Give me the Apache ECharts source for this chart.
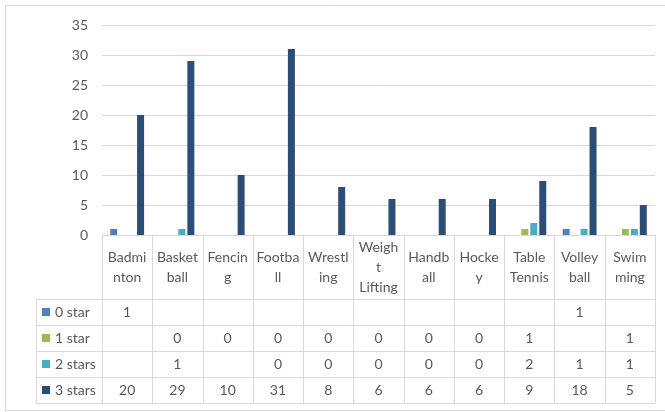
<!DOCTYPE html>
<html><head><meta charset="utf-8">
<script src="https://cdn.jsdelivr.net/npm/echarts@6/dist/echarts.min.js"></script>
<style>html,body{margin:0;padding:0;background:#fff}#c{width:665px;height:412px}</style>
</head><body><div id="c"></div>
<script>
// ---- data ----
const categories = ['Badminton','Basketball','Fencing','Football','Wrestling','Weight Lifting','Handball','Hockey','Table Tennis','Volley ball','Swimming'];
const tickLabels = ['Badmi\nnton','Basket\nball','Fencin\ng','Footba\nll','Wrestl\ning','Weigh\nt\nLifting','Handb\nall','Hocke\ny','Table\nTennis','Volley\nball','Swim\nming'];
const seriesNames = ['0 star','1 star','2 stars','3 stars'];
const star0 = [1,null,null,null,null,null,null,null,null,1,null];
const star1 = [null,0,0,0,0,0,0,0,1,null,1];
const star2 = [null,1,null,0,0,0,0,0,2,1,1];
const star3 = [20,29,10,31,8,6,6,6,9,18,5];
const yMin = 0, yMax = 35, yInterval = 5;

// ---- style ----
const colors = ['#4f81bd','#9bbb59','#4bacc6','#2c4d75'];
const font = 'Lato, "Noto Sans", sans-serif';
const textColor = '#595959';
const lineColor = '#d9d9d9';
const gridLeft = 102, gridRight = 10, gridTop = 25, gridBottom = 177;
const headerH = 64, rowH = 26, legendLeft = 36;

const chart = echarts.init(document.getElementById('c'), null, {renderer:'canvas'});
const rows = [star0, star1, star2, star3];

const option = {
  animation: false,
  backgroundColor: '#fff',
  grid: {left: gridLeft, right: gridRight, top: gridTop, bottom: gridBottom, containLabel: false},
  xAxis: {
    type: 'category',
    data: categories,
    axisLine: {show: true, lineStyle: {color: lineColor, width: 1}},
    axisTick: {show: false},
    axisLabel: {
      interval: 0, margin: 32, verticalAlign: 'middle', lineHeight: 20,
      color: textColor, fontSize: 14, fontFamily: font,
      formatter: (v, i) => tickLabels[i]
    },
    splitLine: {show: false}
  },
  yAxis: {
    type: 'value', min: yMin, max: yMax, interval: yInterval,
    axisLine: {show: false}, axisTick: {show: false},
    axisLabel: {color: textColor, fontSize: 14, fontFamily: font, margin: 14},
    splitLine: {lineStyle: {color: lineColor, width: 1}}
  },
  series: rows.map((d, i) => ({
    name: seriesNames[i], type: 'bar', data: d,
    barWidth: 7, barGap: '28%',
    itemStyle: {color: colors[i]}
  }))
};
chart.setOption(option);

// ---- data table built from axis positions ----
const axisY = chart.convertToPixel({yAxisIndex: 0}, 0);
const xa = chart.convertToPixel({xAxisIndex: 0}, 0);
const xb = chart.convertToPixel({xAxisIndex: 0}, 1);
const step = xb - xa;
const left = xa - step / 2;
const right = left + step * categories.length;
const tableTop = axisY + headerH;
const tableBottom = tableTop + rows.length * rowH;
const px = v => Math.round(v) + 0.5;
const g = [];
const ls = {stroke: lineColor, lineWidth: 1};
for (let r = 0; r <= rows.length; r++) {
  const y = px(tableTop + r * rowH);
  g.push({type: 'line', shape: {x1: legendLeft, y1: y, x2: right, y2: y}, style: ls, silent: true});
}
for (let k = 0; k <= categories.length; k++) {
  const x = px(left + k * step);
  g.push({type: 'line', shape: {x1: x, y1: axisY, x2: x, y2: tableBottom}, style: ls, silent: true});
}
g.push({type: 'line', shape: {x1: px(legendLeft), y1: tableTop, x2: px(legendLeft), y2: tableBottom}, style: ls, silent: true});
rows.forEach((d, r) => {
  const cy = tableTop + r * rowH + rowH / 2;
  g.push({type: 'rect', shape: {x: 42, y: Math.round(cy - 4), width: 8, height: 8}, style: {fill: colors[r]}, silent: true});
  g.push({type: 'text', x: 55, y: cy, style: {text: seriesNames[r], fill: textColor, font: '14px ' + font, textAlign: 'left', textVerticalAlign: 'middle'}, silent: true});
  d.forEach((v, i) => {
    if (v === null) return;
    const cx = chart.convertToPixel({xAxisIndex: 0}, i);
    g.push({type: 'text', x: cx, y: cy, style: {text: String(v), fill: textColor, font: '14px ' + font, textAlign: 'center', textVerticalAlign: 'middle'}, silent: true});
  });
});
g.push({type: 'rect', shape: {x: 5.5, y: 5.5, width: 680, height: 405}, style: {fill: 'none', stroke: lineColor, lineWidth: 1}, silent: true});
chart.setOption({graphic: {elements: g}});
</script>
</body></html>
